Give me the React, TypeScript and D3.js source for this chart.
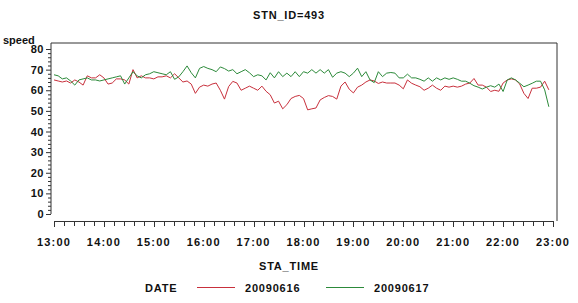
import React, { useEffect, useRef } from 'react';
import * as d3 from 'd3';

// speed at 5-minute steps from 13:00, one row of 12 per hour
const speed0616 = [
  65, 64.5, 64, 64.5, 63.5, 65, 64, 62.5, 67, 66, 66, 67.5,
  66, 63, 63.5, 65.5, 65.5, 65, 63, 70, 66, 67, 66, 66,
  65.5, 66.5, 66.5, 67, 66, 68, 66, 64, 64.5, 63, 58.5, 61.5,
  62.5, 62, 63, 63.5, 60, 55.7, 61.8, 64.3, 63.5, 60, 61, 62,
  61, 60, 62, 59.5, 57.8, 53.8, 54.7, 51, 53, 56, 57, 57.5,
  56, 50.5, 51, 51.4, 55.3, 56.5, 57.4, 57, 55.7, 62, 64, 60.5,
  58.7, 61.5, 62.5, 64, 65, 64.5, 63.3, 64, 63.5, 63.5, 63.5, 62.5,
  60.7, 65, 63.4, 62.5, 61.7, 60, 61, 62.5, 61, 60, 62, 61.5,
  62, 61.5, 62, 63, 63.5, 65.7, 62.5, 62.5, 61.5, 59.4, 60, 59.5,
  63.5, 65, 65.5, 65, 63, 58.5, 56, 61, 61, 61.5, 64.4, 60.2,
];
const speed0617 = [
  67.5, 67, 65.5, 66, 64.5, 62.5, 65, 65.5, 66, 65, 65, 64.5,
  65, 65.5, 66, 66.5, 67, 63, 66, 69, 67, 66, 67.5, 68,
  69, 68.5, 68, 67.5, 69, 65.3, 66.5, 69, 71.8, 68.5, 66, 70.6,
  71.5, 70.6, 70, 69, 71.3, 70.5, 69.3, 70, 68, 69, 70, 68.5,
  66.6, 67.5, 67, 65, 68.5, 66, 69, 66.6, 68.3, 66.6, 69, 66.6,
  69, 68.3, 70, 68.3, 70, 68.3, 70, 66.3, 68.3, 69, 68.3, 66.6,
  68.3, 70.7, 66.6, 69, 65, 63.7, 69, 66.6, 68.3, 68.6, 68.3, 66,
  66, 67.8, 66, 66, 65.3, 64.4, 66, 64.4, 66, 65, 66, 65.3,
  66, 65.3, 64.4, 64.4, 63.4, 62.2, 61.5, 60.6, 61.5, 62.2, 61.5, 63,
  59.4, 65, 66, 65, 63.4, 61.7, 62.5, 63.4, 64.4, 64.4, 60.2, 52,
];
const dates = ['20090616', '20090617'];
const hourTicks = d3.range(13, 24);
const speedTicks = d3.range(0, 90, 10);

const W = 578;
const H = 303;
const font = 'Liberation Sans, Arial, sans-serif';

const App = () => {
  const ref = useRef<SVGSVGElement>(null);

  useEffect(() => {
    const svg = d3.select(ref.current);
    svg.selectAll('*').remove();

    const x = d3.scaleLinear().domain([13, 23]).range([54, 553]);
    const y = d3.scaleLinear().domain([0, 80]).range([214, 49]);
    const axisY = 221;
    const left = 51, right = 557, top = 43;

    const txt = (s: string, tx: number, ty: number, anchor = 'start') =>
      svg.append('text')
        .attr('x', tx).attr('y', ty)
        .attr('text-anchor', anchor)
        .attr('font-family', font)
        .attr('font-weight', 'bold')
        .attr('font-size', 11)
        .attr('letter-spacing', 0.8)
        .attr('fill', '#111')
        .text(s);

    txt('STN_ID=493', W / 2, 19, 'middle');
    txt('speed', 3, 44).attr('letter-spacing', 0);

    // frame: top and right sides
    svg.append('path')
      .attr('d', `M${left},${top}H${right}V${axisY}`)
      .attr('fill', 'none').attr('stroke', '#333').attr('stroke-width', 1);

    // y axis
    svg.append('line')
      .attr('x1', left).attr('x2', left)
      .attr('y1', top).attr('y2', y(0))
      .attr('stroke', '#333');
    const yMinor = d3.range(0, 80.01, 2);
    svg.selectAll('.ym').data(yMinor).enter().append('line')
      .attr('x1', left).attr('x2', d => left - (d % 10 === 0 ? 5 : 3))
      .attr('y1', d => y(d) + 0.5).attr('y2', d => y(d) + 0.5)
      .attr('stroke', '#333');
    speedTicks.forEach(v => txt(String(v), 44, y(v) + 4, 'end').attr('letter-spacing', 0.5));

    // x axis
    svg.append('line')
      .attr('x1', x(13)).attr('x2', x(23))
      .attr('y1', axisY + 0.5).attr('y2', axisY + 0.5)
      .attr('stroke', '#333');
    const xMinor = d3.range(0, 51).map(i => 13 + i / 5);
    svg.selectAll('.xm').data(xMinor).enter().append('line')
      .attr('x1', d => Math.round(x(d)) + 0.5).attr('x2', d => Math.round(x(d)) + 0.5)
      .attr('y1', axisY).attr('y2', (d, i) => axisY + (i % 5 === 0 ? 6 : 5))
      .attr('stroke', '#333');
    hourTicks.forEach(h => txt(`${h}:00`, x(h), 246, 'middle').attr('letter-spacing', 1.2));
    txt('STA_TIME', W / 2, 270, 'middle');

    // series
    const colors = ['#c8303c', '#2c8a3a'];
    const line = d3.line<number>()
      .x((d, i) => x(13 + i / 12))
      .y(d => y(d));
    [speed0616, speed0617].forEach((s, k) => {
      svg.append('path')
        .datum(s)
        .attr('d', line)
        .attr('fill', 'none')
        .attr('stroke', colors[k])
        .attr('stroke-width', 1);
    });

    // legend
    txt('DATE', 145, 292);
    const lx = [197, 326];
    dates.forEach((d, k) => {
      svg.append('rect')
        .attr('x', lx[k]).attr('width', 38)
        .attr('y', 287).attr('height', 1)
        .attr('fill', colors[k]);
      txt(d, lx[k] + 48, 292);
    });
  }, []);

  return (
    <svg ref={ref} width={W} height={H}
      style={{ position: 'absolute', left: 0, top: 0, background: '#fff' }} />
  );
};

export default App;
